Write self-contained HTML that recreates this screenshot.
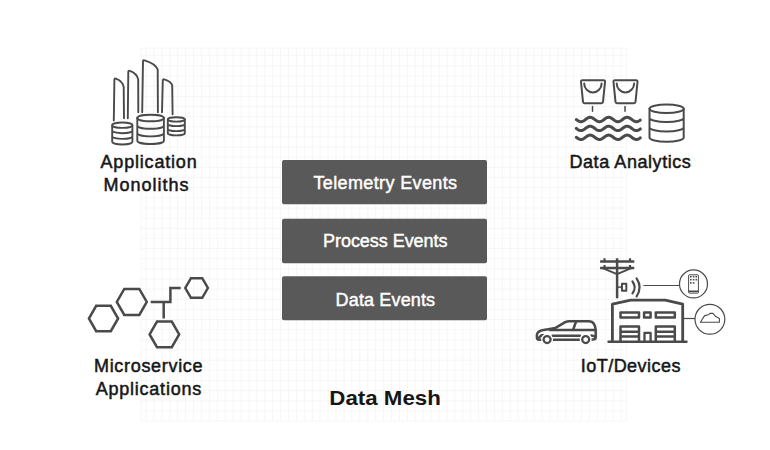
<!DOCTYPE html>
<html><head><meta charset="utf-8"><style>
html,body{margin:0;padding:0;background:#fff;}
svg{display:block;}
text{font-family:"Liberation Sans",sans-serif;}
</style></head><body>
<svg width="770" height="450" viewBox="0 0 770 450">
<rect width="770" height="450" fill="#fff"/>
<path d="M141 48H626.7V421H141ZM146.0 48V421M153.9 48V421M161.8 48V421M169.8 48V421M177.7 48V421M185.6 48V421M193.5 48V421M201.4 48V421M209.4 48V421M217.3 48V421M225.2 48V421M233.1 48V421M241.0 48V421M249.0 48V421M256.9 48V421M264.8 48V421M272.7 48V421M280.6 48V421M288.6 48V421M296.5 48V421M304.4 48V421M312.3 48V421M320.2 48V421M328.2 48V421M336.1 48V421M344.0 48V421M351.9 48V421M359.8 48V421M367.8 48V421M375.7 48V421M383.6 48V421M391.5 48V421M399.4 48V421M407.4 48V421M415.3 48V421M423.2 48V421M431.1 48V421M439.0 48V421M447.0 48V421M454.9 48V421M462.8 48V421M470.7 48V421M478.6 48V421M486.6 48V421M494.5 48V421M502.4 48V421M510.3 48V421M518.2 48V421M526.2 48V421M534.1 48V421M542.0 48V421M549.9 48V421M557.8 48V421M565.8 48V421M573.7 48V421M581.6 48V421M589.5 48V421M597.4 48V421M605.4 48V421M613.3 48V421M621.2 48V421M141 55.7H626.7M141 65.9H626.7M141 76.0H626.7M141 86.2H626.7M141 96.3H626.7M141 106.5H626.7M141 116.6H626.7M141 126.8H626.7M141 136.9H626.7M141 147.1H626.7M141 157.2H626.7M141 167.4H626.7M141 177.5H626.7M141 187.7H626.7M141 197.8H626.7M141 208.0H626.7M141 218.1H626.7M141 228.3H626.7M141 238.4H626.7M141 248.6H626.7M141 258.7H626.7M141 268.9H626.7M141 279.0H626.7M141 289.2H626.7M141 299.3H626.7M141 309.4H626.7M141 319.6H626.7M141 329.7H626.7M141 339.9H626.7M141 350.0H626.7M141 360.2H626.7M141 370.3H626.7M141 380.5H626.7M141 390.6H626.7M141 400.8H626.7M141 410.9H626.7" fill="none" stroke="#f6f6f6" stroke-width="1"/>

<g fill="none" stroke="#4a4a4a" stroke-width="1.9" stroke-linecap="round" stroke-linejoin="round">
<path d="M113.8 120.5L114.4 79.5Q114.5 78.2 115.8 78.6Q122.6 81 123.7 87L124 118.3"/>
<path d="M127.8 118.3L128.3 71.7Q128.4 70.4 129.7 70.8Q137 73.3 138.2 79.4L138.3 112.2"/>
<path d="M142.2 112.2L143 61.2Q143.1 59.9 144.4 60.3Q156 63.8 157.7 69.6L157.9 112.2"/>
<path d="M162 112.2L162.8 80.3Q162.9 79 164.2 79.4Q171 81.6 172.2 85.2L172.6 114.2"/>
<ellipse cx="122.3" cy="125.2" rx="10.1" ry="2.7"/><path d="M112.2 125.2V141.80 A10.1 2.7 0 0 0 132.4 141.80 V125.2 M112.2 130.50 A10.1 2.7 0 0 0 132.4 130.50 M112.2 136.20 A10.1 2.7 0 0 0 132.4 136.20"/>
<ellipse cx="150.6" cy="118.0" rx="13.3" ry="3.3"/><path d="M137.29999999999998 118.0V140.70 A13.3 3.3 0 0 0 163.9 140.70 V118.0 M137.29999999999998 125.50 A13.3 3.3 0 0 0 163.9 125.50 M137.29999999999998 133.10 A13.3 3.3 0 0 0 163.9 133.10"/>
<ellipse cx="176.3" cy="119.4" rx="8.5" ry="2.2"/><path d="M167.8 119.4V133.20 A8.5 2.2 0 0 0 184.8 133.20 V119.4 M167.8 123.90 A8.5 2.2 0 0 0 184.8 123.90 M167.8 128.90 A8.5 2.2 0 0 0 184.8 128.90"/>
</g>

<g fill="none" stroke="#4a4a4a" stroke-width="2" stroke-linecap="round" stroke-linejoin="round">
<path d="M582.5 80.2H603.5Q605.2 80.2 605 82L603 101.8Q602.9 103.3 601.5 103.3H584.5Q583.1 103.3 583 101.8L581 82Q580.8 80.2 582.5 80.2Z"/><path d="M584.2 83.4A8.7 9.0 0 0 0 601.6 83.4"/><path d="M615.0 80.2H636.0Q637.7 80.2 637.5 82L635.5 101.8Q635.4 103.3 634.0 103.3H617.0Q615.6 103.3 615.5 101.8L613.5 82Q613.3 80.2 615.0 80.2Z"/><path d="M616.7 83.4A8.7 9.0 0 0 0 634.1 83.4"/>
<path d="M592.5 106.6V111.3M625 106.6V111.3" stroke-width="1.5"/>
<g stroke-width="3.0"><path d="M576.30,119.52 L576.80,119.89 L577.30,120.25 L577.80,120.59 L578.30,120.90 L578.80,121.16 L579.30,121.38 L579.80,121.55 L580.30,121.65 L580.80,121.70 L581.30,121.68 L581.80,121.60 L582.30,121.46 L582.80,121.26 L583.30,121.01 L583.80,120.72 L584.30,120.39 L584.80,120.04 L585.30,119.67 L585.80,119.29 L586.30,118.93 L586.80,118.58 L587.30,118.25 L587.80,117.96 L588.30,117.72 L588.80,117.53 L589.30,117.39 L589.80,117.32 L590.30,117.30 L590.80,117.35 L591.30,117.47 L591.80,117.64 L592.30,117.86 L592.80,118.13 L593.30,118.44 L593.80,118.78 L594.30,119.15 L594.80,119.52 L595.30,119.89 L595.80,120.25 L596.30,120.59 L596.80,120.90 L597.30,121.16 L597.80,121.38 L598.30,121.55 L598.80,121.65 L599.30,121.70 L599.80,121.68 L600.30,121.60 L600.80,121.46 L601.30,121.26 L601.80,121.01 L602.30,120.72 L602.80,120.39 L603.30,120.04 L603.80,119.67 L604.30,119.29 L604.80,118.93 L605.30,118.58 L605.80,118.25 L606.30,117.96 L606.80,117.72 L607.30,117.53 L607.80,117.39 L608.30,117.32 L608.80,117.30 L609.30,117.35 L609.80,117.47 L610.30,117.64 L610.80,117.86 L611.30,118.13 L611.80,118.44 L612.30,118.78 L612.80,119.15 L613.30,119.52 L613.80,119.89 L614.30,120.25 L614.80,120.59 L615.30,120.90 L615.80,121.16 L616.30,121.38 L616.80,121.55 L617.30,121.65 L617.80,121.70 L618.30,121.68 L618.80,121.60 L619.30,121.46 L619.80,121.26 L620.30,121.01 L620.80,120.72 L621.30,120.39 L621.80,120.04 L622.30,119.67 L622.80,119.29 L623.30,118.93 L623.80,118.58 L624.30,118.25 L624.80,117.96 L625.30,117.72 L625.80,117.53 L626.30,117.39 L626.80,117.32 L627.30,117.30 L627.80,117.35 L628.30,117.47 L628.80,117.64 L629.30,117.86 L629.80,118.13 L630.30,118.44 L630.80,118.78 L631.30,119.15 L631.80,119.52 L632.30,119.89 L632.80,120.25 L633.30,120.59 L633.80,120.90 L634.30,121.16 L634.80,121.38 L635.30,121.55 L635.80,121.65 L636.30,121.70 L636.80,121.68 L637.30,121.60 L637.80,121.46 L638.30,121.26 L638.80,121.01 L639.30,120.72 L639.80,120.39 L640.30,120.04"/><path d="M576.30,128.42 L576.80,128.79 L577.30,129.15 L577.80,129.49 L578.30,129.80 L578.80,130.06 L579.30,130.28 L579.80,130.45 L580.30,130.55 L580.80,130.60 L581.30,130.58 L581.80,130.50 L582.30,130.36 L582.80,130.16 L583.30,129.91 L583.80,129.62 L584.30,129.29 L584.80,128.94 L585.30,128.57 L585.80,128.19 L586.30,127.83 L586.80,127.48 L587.30,127.15 L587.80,126.86 L588.30,126.62 L588.80,126.43 L589.30,126.29 L589.80,126.22 L590.30,126.20 L590.80,126.25 L591.30,126.37 L591.80,126.54 L592.30,126.76 L592.80,127.03 L593.30,127.34 L593.80,127.68 L594.30,128.05 L594.80,128.42 L595.30,128.79 L595.80,129.15 L596.30,129.49 L596.80,129.80 L597.30,130.06 L597.80,130.28 L598.30,130.45 L598.80,130.55 L599.30,130.60 L599.80,130.58 L600.30,130.50 L600.80,130.36 L601.30,130.16 L601.80,129.91 L602.30,129.62 L602.80,129.29 L603.30,128.94 L603.80,128.57 L604.30,128.19 L604.80,127.83 L605.30,127.48 L605.80,127.15 L606.30,126.86 L606.80,126.62 L607.30,126.43 L607.80,126.29 L608.30,126.22 L608.80,126.20 L609.30,126.25 L609.80,126.37 L610.30,126.54 L610.80,126.76 L611.30,127.03 L611.80,127.34 L612.30,127.68 L612.80,128.05 L613.30,128.42 L613.80,128.79 L614.30,129.15 L614.80,129.49 L615.30,129.80 L615.80,130.06 L616.30,130.28 L616.80,130.45 L617.30,130.55 L617.80,130.60 L618.30,130.58 L618.80,130.50 L619.30,130.36 L619.80,130.16 L620.30,129.91 L620.80,129.62 L621.30,129.29 L621.80,128.94 L622.30,128.57 L622.80,128.19 L623.30,127.83 L623.80,127.48 L624.30,127.15 L624.80,126.86 L625.30,126.62 L625.80,126.43 L626.30,126.29 L626.80,126.22 L627.30,126.20 L627.80,126.25 L628.30,126.37 L628.80,126.54 L629.30,126.76 L629.80,127.03 L630.30,127.34 L630.80,127.68 L631.30,128.05 L631.80,128.42 L632.30,128.79 L632.80,129.15 L633.30,129.49 L633.80,129.80 L634.30,130.06 L634.80,130.28 L635.30,130.45 L635.80,130.55 L636.30,130.60 L636.80,130.58 L637.30,130.50 L637.80,130.36 L638.30,130.16 L638.80,129.91 L639.30,129.62 L639.80,129.29 L640.30,128.94"/><path d="M576.30,137.32 L576.80,137.69 L577.30,138.05 L577.80,138.39 L578.30,138.70 L578.80,138.96 L579.30,139.18 L579.80,139.35 L580.30,139.45 L580.80,139.50 L581.30,139.48 L581.80,139.40 L582.30,139.26 L582.80,139.06 L583.30,138.81 L583.80,138.52 L584.30,138.19 L584.80,137.84 L585.30,137.47 L585.80,137.09 L586.30,136.73 L586.80,136.38 L587.30,136.05 L587.80,135.76 L588.30,135.52 L588.80,135.33 L589.30,135.19 L589.80,135.12 L590.30,135.10 L590.80,135.15 L591.30,135.27 L591.80,135.44 L592.30,135.66 L592.80,135.93 L593.30,136.24 L593.80,136.58 L594.30,136.95 L594.80,137.32 L595.30,137.69 L595.80,138.05 L596.30,138.39 L596.80,138.70 L597.30,138.96 L597.80,139.18 L598.30,139.35 L598.80,139.45 L599.30,139.50 L599.80,139.48 L600.30,139.40 L600.80,139.26 L601.30,139.06 L601.80,138.81 L602.30,138.52 L602.80,138.19 L603.30,137.84 L603.80,137.47 L604.30,137.09 L604.80,136.73 L605.30,136.38 L605.80,136.05 L606.30,135.76 L606.80,135.52 L607.30,135.33 L607.80,135.19 L608.30,135.12 L608.80,135.10 L609.30,135.15 L609.80,135.27 L610.30,135.44 L610.80,135.66 L611.30,135.93 L611.80,136.24 L612.30,136.58 L612.80,136.95 L613.30,137.32 L613.80,137.69 L614.30,138.05 L614.80,138.39 L615.30,138.70 L615.80,138.96 L616.30,139.18 L616.80,139.35 L617.30,139.45 L617.80,139.50 L618.30,139.48 L618.80,139.40 L619.30,139.26 L619.80,139.06 L620.30,138.81 L620.80,138.52 L621.30,138.19 L621.80,137.84 L622.30,137.47 L622.80,137.09 L623.30,136.73 L623.80,136.38 L624.30,136.05 L624.80,135.76 L625.30,135.52 L625.80,135.33 L626.30,135.19 L626.80,135.12 L627.30,135.10 L627.80,135.15 L628.30,135.27 L628.80,135.44 L629.30,135.66 L629.80,135.93 L630.30,136.24 L630.80,136.58 L631.30,136.95 L631.80,137.32 L632.30,137.69 L632.80,138.05 L633.30,138.39 L633.80,138.70 L634.30,138.96 L634.80,139.18 L635.30,139.35 L635.80,139.45 L636.30,139.50 L636.80,139.48 L637.30,139.40 L637.80,139.26 L638.30,139.06 L638.80,138.81 L639.30,138.52 L639.80,138.19 L640.30,137.84"/></g>
<ellipse cx="666.6" cy="108.8" rx="17.1" ry="4.2"/><path d="M649.5 108.8V137.60 A17.1 4.2 0 0 0 683.7 137.60 V108.8 M649.5 117.80 A17.1 4.2 0 0 0 683.7 117.80 M649.5 127.30 A17.1 4.2 0 0 0 683.7 127.30"/>
</g>

<g fill="none" stroke="#4a4a4a" stroke-width="2.5" stroke-linejoin="miter">
<polygon points="118.10,318.50 110.80,331.14 96.20,331.14 88.90,318.50 96.20,305.86 110.80,305.86"/>
<polygon points="146.80,301.90 139.30,314.89 124.30,314.89 116.80,301.90 124.30,288.91 139.30,288.91"/>
<polygon points="207.90,288.00 202.25,297.79 190.95,297.79 185.30,288.00 190.95,278.21 202.25,278.21"/>
<polygon points="179.20,334.40 171.80,347.22 157.00,347.22 149.60,334.40 157.00,321.58 171.80,321.58"/>
<path d="M150.7 302H170.4V288H180.7M163.7 302V318.5"/>
</g>

<g fill="none" stroke="#4a4a4a" stroke-linecap="butt" stroke-linejoin="round">
<path d="M617.1 258.3V298.3" stroke-width="2.5"/>
<path d="M600.1 261.4H634.3M600.1 267.9H634.3" stroke-width="2.5"/>
<path d="M604.5 258.3V261M630 258.3V261M604.5 265V267M630 265V267" stroke-width="2.2"/>
<path d="M602.6 268.2L617 274.2L631.4 268.2" stroke-width="2"/>
<rect x="622" y="283.7" width="4.3" height="7" stroke-width="2"/>
<path d="M617 287.1H622" stroke-width="1.5"/>
<path d="M632.5 281.5Q636.8 287.4 632.5 293.3" stroke-width="2.2" stroke-linecap="round"/>
<path d="M636.6 278.4Q642.6 287.4 636.6 296.4" stroke-width="2.2" stroke-linecap="round"/>
<path d="M643.4 285.5H679.4" stroke-width="1.2"/>
<circle cx="693.5" cy="283.9" r="14" stroke-width="1.2"/>
<rect x="688.6" y="274.8" width="9.8" height="18.3" rx="0.6" stroke-width="1"/>
<path d="M688.6 291.3H698.4" stroke-width="1.6"/>
<g fill="#4a4a4a" stroke="none">
<rect x="690" y="275.9" width="1.6" height="1.6"/><rect x="692.8" y="275.9" width="1.6" height="1.6"/><rect x="695.5" y="275.9" width="1.6" height="1.6"/>
<rect x="690" y="278.9" width="1.6" height="1.6"/><rect x="692.8" y="278.9" width="1.6" height="1.6"/><rect x="695.5" y="278.9" width="1.6" height="1.6"/>
<rect x="690" y="282.1" width="1.6" height="1.6"/><rect x="692.8" y="282.1" width="1.6" height="1.6"/>
</g>
<path d="M612.4 341V304.2L630.7 300.2H665.3L682.7 304.2V341" stroke-width="2.8"/>
<path d="M608.5 341.7H686.5" stroke-width="2.4" stroke-linecap="round"/>
<rect x="620.5" y="312.5" width="18.5" height="5" stroke-width="2.5"/>
<rect x="644.1" y="312.5" width="6.5" height="5" stroke-width="2.5"/>
<rect x="655.8" y="312.5" width="19" height="5" stroke-width="2.5"/>
<path d="M620.5 341V326.6H639V341M655.8 341V326.6H674.8V341" stroke-width="2.5"/>
<path d="M620.5 331.7H639M620.5 336.5H639M655.8 331.7H674.8M655.8 336.5H674.8" stroke-width="2.5"/>
<path d="M644.5 341V332.9H650.6V341" stroke-width="2.3"/>
<path d="M684 318.5H695" stroke-width="1.2"/>
<circle cx="709.9" cy="319.3" r="14.9" stroke-width="1.2"/>
<path d="M700.4 322.2L704.6 315.6L708.6 314.7L710 313.4H713L715.4 316.2L719.4 318.4V322.2Z" stroke-width="1.1"/>
<g stroke-width="2.5" stroke-linejoin="round" stroke-linecap="round">
<path d="M542 339.7H539Q536.9 339.7 536.9 337.6V334.6Q537.4 331.3 543.5 330.1Q550 328.8 555.5 327.9L565.2 322.2Q566.9 321.3 569.5 321.3H588.8Q592.2 321.3 594 324Q595.7 326.8 595.7 330V337Q595.7 339.6 593 339.6H591"/>
<path d="M552.6 339.7H580.5M550 330H595.2M576 321.8L573.2 329.5M552.5 335.7H580"/>
<path d="M539 337.6L541.6 335.3H543.5M591.5 335.4Q594 335.6 595.2 337"/>
<circle cx="547.1" cy="339.6" r="5.2" stroke="#fff" stroke-width="1.6"/>
<circle cx="585.7" cy="339.6" r="5.2" stroke="#fff" stroke-width="1.6"/>
<circle cx="547.1" cy="339.6" r="3.5" stroke-width="2.2"/>
<circle cx="585.7" cy="339.6" r="3.5" stroke-width="2.2"/>
</g>
</g>

<g fill="#595959">
<rect x="282" y="160" width="205" height="44.3" rx="2"/>
<rect x="282" y="218.8" width="205" height="44.5" rx="2"/>
<rect x="282" y="276.2" width="205" height="44.1" rx="2"/>
</g>
<g fill="#fff" stroke="#fff" stroke-width="0.45" font-size="18">
<text x="313.5" y="188.8" textLength="143.5" lengthAdjust="spacing">Telemetry Events</text>
<text x="323" y="246.8" textLength="124.5" lengthAdjust="spacing">Process Events</text>
<text x="335.6" y="305.8" textLength="99.5" lengthAdjust="spacing">Data Events</text>
</g>

<g fill="#161616" stroke="#161616" stroke-width="0.5" font-size="18">
<text x="100.5" y="167.8" textLength="96.2" lengthAdjust="spacing">Application</text>
<text x="103.6" y="190.7" textLength="85" lengthAdjust="spacing">Monoliths</text>
<text x="569.5" y="167.7" textLength="121.3" lengthAdjust="spacing">Data Analytics</text>
<text x="94.0" y="372" textLength="108.5" lengthAdjust="spacing">Microservice</text>
<text x="95.7" y="394.6" textLength="105.5" lengthAdjust="spacing">Applications</text>
<text x="580.7" y="371.5" textLength="99.8" lengthAdjust="spacing">IoT/Devices</text>
</g>
<text x="329.3" y="405.3" font-size="21" font-weight="700" fill="#161616" textLength="111.5" lengthAdjust="spacingAndGlyphs">Data Mesh</text>
</svg>
</body></html>
